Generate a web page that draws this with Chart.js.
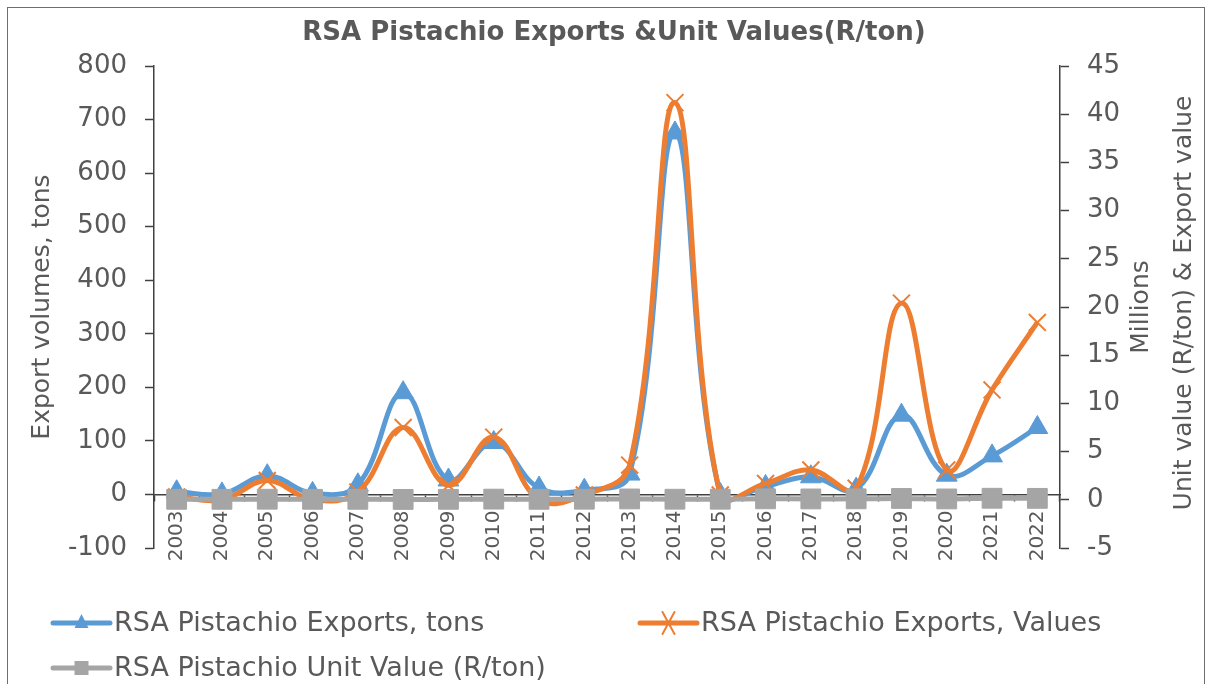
<!DOCTYPE html>
<html>
<head>
<meta charset="utf-8">
<script src="https://cdn.jsdelivr.net/npm/chart.js@4.4.1/dist/chart.umd.min.js"></script>
<style>
  html, body { margin: 0; padding: 0; background: #fff; }
  #wrap { position: relative; width: 1214px; height: 684px; overflow: hidden; }
  #frame { position: absolute; left: 7px; top: 7px; width: 1198px; height: 700px; border: 1.5px solid #6e6e6e; box-sizing: border-box; pointer-events: none; }
  canvas { position: absolute; left: 0; top: 0; }
</style>
</head>
<body>
<div id="wrap">
  <canvas id="c" width="1214" height="684"></canvas>
  <div id="frame"></div>
</div>
<script>
const years = ['2003','2004','2005','2006','2007','2008','2009','2010','2011','2012','2013','2014','2015','2016','2017','2018','2019','2020','2021','2022'];
const exportTons = [5, 1, 35, 2, 18, 190, 27, 97, 12, 8, 38, 675, 0, 15, 33, 10, 148, 36, 72, 125];
const exportValuesMillions = [0.3, 0.0, 2.0, 0.0, 0.8, 7.5, 1.5, 6.5, 0.0, 0.5, 3.6, 41.2, 0.5, 1.7, 3.1, 1.2, 20.4, 3.1, 11.4, 18.4];
const unitValueMillions = [0.05, 0.05, 0.06, 0.05, 0.05, 0.04, 0.05, 0.07, 0.05, 0.06, 0.09, 0.06, 0.06, 0.1, 0.09, 0.1, 0.14, 0.09, 0.16, 0.15];
const leftTicks = [-100, 0, 100, 200, 300, 400, 500, 600, 700, 800];
const rightTicks = [-5, 0, 5, 10, 15, 20, 25, 30, 35, 40, 45];

const FONT = "'DejaVu Sans', sans-serif";
const TXT = '#595959';
const AX = '#404040';

const textPlugin = {
  id: 'texts',
  afterDraw(chart) {
    const ctx = chart.ctx;
    ctx.save();
    ctx.fillStyle = TXT;
    // Title
    ctx.font = "bold 26px " + FONT;
    ctx.textAlign = 'center';
    ctx.textBaseline = 'middle';
    ctx.fillText('RSA Pistachio Exports &Unit Values(R/ton)', 614, 33);
    // left axis title
    ctx.font = "25px " + FONT;
    ctx.save();
    ctx.translate(42, 307);
    ctx.rotate(-Math.PI / 2);
    ctx.fillText('Export volumes, tons', 0, 0);
    ctx.restore();
    // right display units
    ctx.save();
    ctx.translate(1141, 307);
    ctx.rotate(-Math.PI / 2);
    ctx.fillText('Millions', 0, 0);
    ctx.restore();
    // right axis title
    ctx.save();
    ctx.translate(1184, 303);
    ctx.rotate(-Math.PI / 2);
    ctx.fillText('Unit value (R/ton) & Export value', 0, 0);
    ctx.restore();

    // Legend
    const items = [
      {ds: 0, x: 53, y: 623},
      {ds: 1, x: 640, y: 623},
      {ds: 2, x: 53, y: 668}
    ];
    ctx.font = "27px " + FONT;
    ctx.textAlign = 'left';
    items.forEach(it => {
      const d = chart.data.datasets[it.ds];
      ctx.strokeStyle = d.borderColor;
      ctx.lineWidth = 5;
      ctx.lineCap = 'round';
      ctx.beginPath();
      ctx.moveTo(it.x, it.y);
      ctx.lineTo(it.x + 57, it.y);
      ctx.stroke();
      const cx = it.x + 28.5;
      ctx.fillStyle = d.pointBackgroundColor;
      ctx.strokeStyle = d.pointBorderColor;
      ctx.lineWidth = 2;
      ctx.beginPath();
      if (d.pointStyle === 'triangle') {
        ctx.moveTo(cx, it.y - 9); ctx.lineTo(cx + 7, it.y + 5); ctx.lineTo(cx - 7, it.y + 5); ctx.closePath(); ctx.fill();
      } else if (d.pointStyle === 'rect') {
        ctx.rect(cx - 7, it.y - 7, 14, 14); ctx.fill();
      } else {
        ctx.moveTo(cx - 6, it.y - 11); ctx.lineTo(cx + 6, it.y + 11);
        ctx.moveTo(cx + 6, it.y - 11); ctx.lineTo(cx - 6, it.y + 11); ctx.stroke();
      }
      ctx.fillStyle = TXT;
      ctx.fillText(d.label, it.x + 61, it.y + 1);
    });
    ctx.restore();
  }
};

new Chart(document.getElementById('c'), {
  type: 'line',
  data: {
    labels: years,
    datasets: [
      {
        label: 'RSA Pistachio Exports, tons',
        data: exportTons,
        yAxisID: 'y',
        borderColor: '#5b9bd5',
        backgroundColor: '#5b9bd5',
        pointBackgroundColor: '#5b9bd5',
        pointBorderColor: '#5b9bd5',
        borderWidth: 5,
        pointStyle: 'triangle',
        pointRadius: 12,
        pointBorderWidth: 1,
        tension: 0.4,
        order: 3
      },
      {
        label: 'RSA Pistachio Exports, Values',
        data: exportValuesMillions,
        yAxisID: 'y1',
        borderColor: '#ed7d31',
        backgroundColor: '#ed7d31',
        pointBackgroundColor: '#ed7d31',
        pointBorderColor: '#ed7d31',
        borderWidth: 5,
        pointStyle: 'crossRot',
        pointRadius: 12,
        pointBorderWidth: 2,
        tension: 0.4,
        order: 2
      },
      {
        label: 'RSA Pistachio Unit Value (R/ton)',
        data: unitValueMillions,
        yAxisID: 'y1',
        borderColor: '#a5a5a5',
        backgroundColor: '#a5a5a5',
        pointBackgroundColor: '#a5a5a5',
        pointBorderColor: '#a5a5a5',
        borderWidth: 5,
        pointStyle: 'rect',
        pointRadius: 14,
        pointBorderWidth: 1,
        tension: 0.4,
        order: 1
      }
    ]
  },
  options: {
    responsive: false,
    animation: false,
    events: [],
    layout: { padding: { top: 66, bottom: 136, left: 0, right: 0 } },
    plugins: {
      legend: { display: false },
      title: { display: false },
      tooltip: { enabled: false }
    },
    scales: {
      x: {
        type: 'category',
        position: { y: 0 },
        offset: true,
        grid: { display: true, drawOnChartArea: false, offset: true, tickLength: 6, color: AX, tickWidth: 1.5 },
        border: { display: true, color: AX, width: 1.5 },
        ticks: {
          color: TXT,
          font: { family: "'DejaVu Sans', sans-serif", size: 20 },
          minRotation: 90, maxRotation: 90,
          autoSkip: false,
          padding: 10
        }
      },
      y: {
        position: 'left',
        min: -100, max: 800,
        afterFit(s) { s.width = 154; },
        afterBuildTicks(s) { s.ticks = leftTicks.map(v => ({ value: v })); },
        grid: { display: true, drawOnChartArea: false, tickLength: 9, color: AX, tickWidth: 1.5 },
        border: { display: true, color: AX, width: 1.5 },
        ticks: { color: TXT, font: { family: FONT, size: 26 }, padding: 18 }
      },
      y1: {
        position: 'right',
        min: -5, max: 45,
        afterFit(s) { s.width = 154; },
        afterBuildTicks(s) { s.ticks = rightTicks.map(v => ({ value: v })); },
        grid: { display: true, drawOnChartArea: false, tickLength: 9, color: AX, tickWidth: 1.5 },
        border: { display: true, color: AX, width: 1.5 },
        ticks: { color: TXT, font: { family: FONT, size: 26 }, padding: 18 }
      }
    }
  },
  plugins: [textPlugin]
});
</script>
</body>
</html>
